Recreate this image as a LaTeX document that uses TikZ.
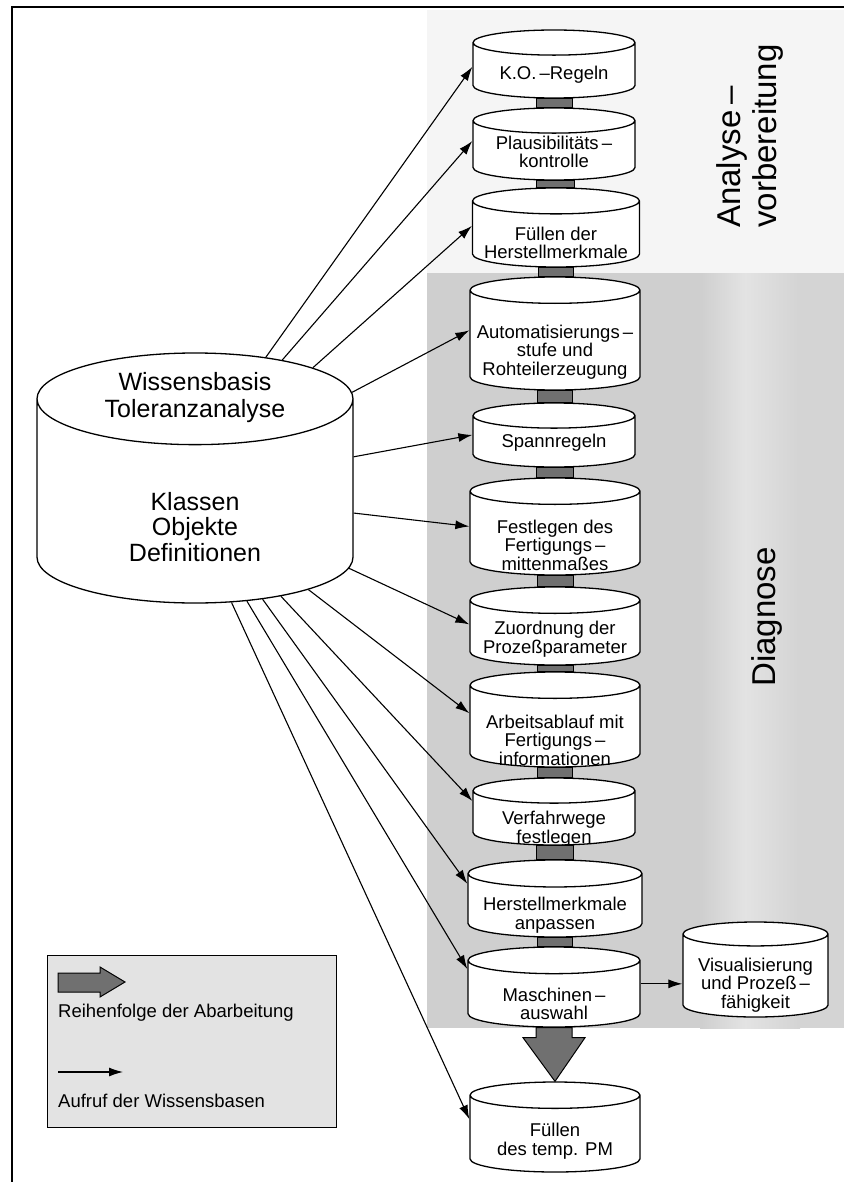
\documentclass[tikz,border=0pt]{standalone}
\usepackage{fontspec}
\setmainfont{Liberation Sans}
\usetikzlibrary{shapes.geometric,arrows.meta,calc}

\begin{document}
\begin{tikzpicture}[x=1pt,y=-1pt,
    drum/.style 2 args={cylinder, shape border rotate=90, anchor=shape center, draw, fill=white,
      line width=1.3pt, aspect=0.155, inner ysep=1pt, inner xsep=#1/2,
      minimum width=#1, minimum height=#2},
    txt/.style={align=center, inner sep=0pt, font=\fontsize{18.5}{18.5}\selectfont},
    call/.style={->, >={Latex[length=14pt,width=9pt]}, line width=1.1pt},
    flowbar/.style={draw, line width=1pt, fill=black!56},
    side/.style={rotate=90, font=\fontsize{33}{36}\selectfont}]
\useasboundingbox (0,0) rectangle (844,1182);

% bereiche
\fill[gray!8] (427,10) rectangle (844,273);
\fill[gray!38] (427,273) rectangle (700,1028);
\shade[left color=gray!38, right color=gray!22] (700,273) rectangle (745,1028);
\shade[left color=gray!22, right color=gray!34] (745,273) rectangle (800,1028);
\fill[gray!34] (800,273) rectangle (844,1028);
\draw[line width=1.5pt] (12,1182) -- (12,7) -- (844,7);

\node[side, align=left] (analyse) at (750,136) {Analyse\,–\\vorbereitung};
\node[side] (diagnose) at (767,617) {Diagnose};

% wissensbasis
\node[drum={316}{250}, aspect=0.29] (wb) at (195,478) {};
\node[txt, font=\fontsize{25}{27}\selectfont] (wbtitel) at (195,398) {Wissensbasis\\Toleranzanalyse};
\node[txt, font=\fontsize{25}{25.5}\selectfont] (wbinhalt) at (195,527) {Klassen\\Objekte\\Definitionen};

% regelbasen
\node[drum={162}{68}] (ko) at (554,64) {};
\node[drum={162}{72}] (plaus) at (554,144) {};
\node[drum={167}{79}] (fuell) at (556,227.5) {};
\node[drum={170}{113}] (auto) at (555,333.5) {};
\node[drum={162}{64}] (spann) at (554,435) {};
\node[drum={170}{97}] (festl) at (555,526.5) {};
\node[drum={170}{78}] (zuord) at (555,626) {};
\node[drum={170}{95}] (arbeit) at (555,719.5) {};
\node[drum={162}{67}] (verf) at (554,811.5) {};
\node[drum={174}{77}] (herst) at (555,898.5) {};
\node[drum={172}{80}] (masch) at (554,987) {};
\node[drum={170}{90}] (temppm) at (555,1127) {};
\node[drum={145}{95}, aspect=0.165] (visu) at (755.5,969.5) {};

\node[txt] (kotxt) at (554,75) {K.O.\,–Regeln};
\node[txt] (plaustxt) at (554,152) {Plausibilitäts\,–\\kontrolle};
\node[txt] (fuelltxt) at (556,243) {Füllen der\\Herstellmerkmale};
\node[txt] (autotxt) at (555,352) {Automatisierungs\,–\\stufe und\\Rohteilerzeugung};
\node[txt] (spanntxt) at (554,443) {Spannregeln};
\node[txt] (festltxt) at (555,545) {Festlegen des\\Fertigungs\,–\\mittenmaßes};
\node[txt] (zuordtxt) at (555,639) {Zuordnung der\\Prozeßparameter};
\node[txt] (arbeittxt) at (555,740) {Arbeitsablauf mit\\Fertigungs\,–\\informationen};
\node[txt] (verftxt) at (554,829) {Verfahrwege\\festlegen};
\node[txt] (hersttxt) at (555,915) {Herstellmerkmale\\anpassen};
\node[txt] (maschtxt) at (554,1004) {Maschinen\,–\\auswahl};
\node[txt] (temppmtxt) at (555,1141) {Füllen\\des temp. PM};
\node[txt] (visutxt) at (755.5,985) {Visualisierung\\und Prozeß\,–\\fähigkeit};

% reihenfolge
\draw[flowbar] ($(ko.south)+(-18,0)$) rectangle ($(plaus.north)+(18,0)$);
\draw[flowbar] ($(plaus.south)+(-18,0)$) rectangle ($(fuell.north)+(18,0)$);
\draw[flowbar] ($(fuell.south)+(-18,0)$) rectangle ($(auto.north)+(18,0)$);
\draw[flowbar] ($(auto.south)+(-18,0)$) rectangle ($(spann.north)+(18,0)$);
\draw[flowbar] ($(spann.south)+(-18,0)$) rectangle ($(festl.north)+(18,0)$);
\draw[flowbar] ($(festl.south)+(-18,0)$) rectangle ($(zuord.north)+(18,0)$);
\draw[flowbar] ($(zuord.south)+(-18,0)$) rectangle ($(arbeit.north)+(18,0)$);
\draw[flowbar] ($(arbeit.south)+(-18,0)$) rectangle ($(verf.north)+(18,0)$);
\draw[flowbar] ($(verf.south)+(-18,0)$) rectangle ($(herst.north)+(18,0)$);
\draw[flowbar] ($(herst.south)+(-18,0)$) rectangle ($(masch.north)+(18,0)$);
\draw[flowbar] ($(masch.south)+(-18,0)$) -- ($(masch.south)+(-18,10)$) -- ($(masch.south)+(-31,10)$)
  -- (temppm.north) -- ($(masch.south)+(31,10)$) -- ($(masch.south)+(18,10)$) -- ($(masch.south)+(18,0)$) -- cycle;

% aufrufe
\draw[call] (wb.67.6) -- (ko.173.2);
\draw[call] (wb.62.3) -- (plaus.169.8);
\draw[call] (wb.53.9) -- (fuell.170.9);
\draw[call] (wb.40.1) -- (auto.169.5);
\draw[call] (wb.23.9) -- (spann.171.9);
\draw[call] (wb.4.7) -- (festl.171.5);
\draw[call] (wb.-16.3) -- (zuord.170.5);
\draw[call] (wb.-30) -- (arbeit.167);
\draw[call] (wb.-40.8) -- (verf.164.1);
\draw[call] (wb.-48.9) -- (herst.162.2);
\draw[call] (wb.-56.6) -- (masch.160);
\draw[call] (wb.-65.2) -- (temppm.166.6);
\draw[call] (masch.11.4) -- (masch.11.4 -| visu.west);

% legende
\draw[line width=1pt, fill=gray!22] (47,955) rectangle (336,1127);
\draw[flowbar] (58,973) -- (100,973) -- (100,967) -- (125,982) -- (100,997) -- (100,992) -- (58,992) -- cycle;
\node[txt, anchor=west] (lgflow) at (58,1013) {Reihenfolge der Abarbeitung};
\coordinate (lga) at (58,1072);
\coordinate (lgb) at (123,1072);
\draw[call] (lga) -- (lgb);
\node[txt, anchor=west] (lgcall) at (58,1101) {Aufruf der Wissensbasen};
\end{tikzpicture}
\end{document}
